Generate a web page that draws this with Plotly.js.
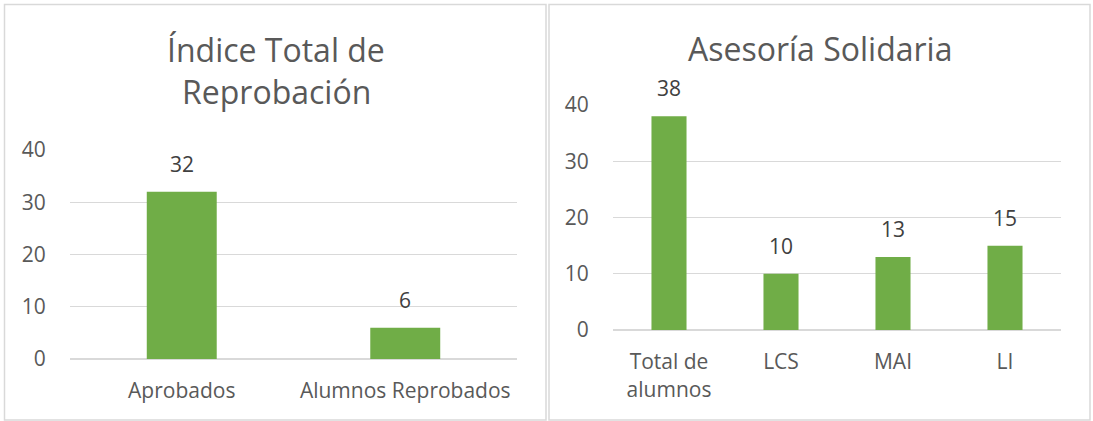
<!DOCTYPE html>
<html>
<head>
<meta charset="utf-8">
<script src="https://cdn.plot.ly/plotly-3.0.1.min.js"></script>
<style>
html,body{margin:0;padding:0;background:#fff;}
#chart{width:1093px;height:421px;}
</style>
</head>
<body>
<div id="chart"></div>
<script>
// Left chart data
const leftTitleLines = ["Índice Total de", "Reprobación"];
const leftCategories = ["Aprobados", "Alumnos Reprobados"];
const leftValues = [32, 6];
// Right chart data
const rightTitle = "Asesoría Solidaria";
const rightCategories = ["Total de<br>alumnos", "LCS", "MAI", "LI"];
const rightValues = [38, 10, 13, 15];
const yTickValues = [0, 10, 20, 30, 40];
const yTickLabels = ["0", "10", "20", "30", "40"];

const W = 1093, H = 421;
const px = v => v / W;
const py = v => (H - v) / H;

const FONT = "Open Sans, sans-serif";
const TXT = "#595959";
const BAR = "#70AD47";
const GRID = "#D9D9D9";

const traces = [
  {type: "bar", x: leftCategories, y: leftValues, xaxis: "x", yaxis: "y",
   marker: {color: BAR}, hoverinfo: "none"},
  {type: "bar", x: rightCategories, y: rightValues, xaxis: "x2", yaxis: "y2",
   marker: {color: BAR}, hoverinfo: "none"}
];

function yaxis(domain, anchor) {
  return {
    domain: domain, anchor: anchor, range: [0, 40], tickvals: yTickValues, ticktext: yTickLabels,
    showgrid: true, gridcolor: GRID, gridwidth: 1.3,
    zeroline: true, zerolinecolor: GRID, zerolinewidth: 1.3,
    showline: false, ticks: "outside", ticklen: 19, tickcolor: "rgba(0,0,0,0)",
    tickfont: {family: FONT, size: 21, color: TXT}, fixedrange: true
  };
}
function xaxis(domain, anchor) {
  return {
    domain: domain, anchor: anchor, showgrid: false, zeroline: false, showline: false,
    ticks: "outside", ticklen: 13, tickcolor: "rgba(0,0,0,0)",
    tickfont: {family: FONT, size: 21, color: TXT}, fixedrange: true, type: "category"
  };
}

const annotations = [];
leftCategories.forEach((c, i) => annotations.push({
  xref: "x", yref: "y", x: c, y: leftValues[i], text: String(leftValues[i]),
  showarrow: false, xanchor: "center", yanchor: "bottom", yshift: 12,
  font: {family: FONT, size: 21, color: "#404040"}
}));
rightCategories.forEach((c, i) => annotations.push({
  xref: "x2", yref: "y2", x: c, y: rightValues[i], text: String(rightValues[i]),
  showarrow: false, xanchor: "center", yanchor: "bottom", yshift: 12,
  font: {family: FONT, size: 21, color: "#404040"}
}));
// titles
annotations.push({xref: "paper", yref: "paper", x: px(276), y: py(50), xanchor: "center", yanchor: "middle",
  text: leftTitleLines[0], showarrow: false, font: {family: FONT, size: 32, color: TXT}});
annotations.push({xref: "paper", yref: "paper", x: px(276), y: py(92), xanchor: "center", yanchor: "middle",
  text: leftTitleLines[1], showarrow: false, font: {family: FONT, size: 32, color: TXT}});
annotations.push({xref: "paper", yref: "paper", x: px(820), y: py(48), xanchor: "center", yanchor: "middle",
  text: rightTitle, showarrow: false, font: {family: FONT, size: 32, color: TXT}});

const layout = {
  width: W, height: H,
  margin: {l: 0, r: 0, t: 0, b: 0},
  paper_bgcolor: "#fff", plot_bgcolor: "rgba(0,0,0,0)",
  showlegend: false, bargap: 0.687,
  xaxis: xaxis([px(70), px(517)], "y"),
  yaxis: yaxis([py(359), py(150)], "x"),
  xaxis2: xaxis([px(613), px(1061)], "y2"),
  yaxis2: yaxis([py(330), py(105)], "x2"),
  annotations: annotations,
  shapes: [
    {type: "rect", xref: "paper", yref: "paper", x0: px(4.5), x1: px(546), y0: py(420), y1: py(4.5),
     line: {color: GRID, width: 1.5}, fillcolor: "rgba(0,0,0,0)", layer: "below"},
    {type: "rect", xref: "paper", yref: "paper", x0: px(549), x1: px(1090), y0: py(420), y1: py(4.5),
     line: {color: GRID, width: 1.5}, fillcolor: "rgba(0,0,0,0)", layer: "below"}
  ]
};

Plotly.newPlot("chart", traces, layout, {displayModeBar: false, staticPlot: true});
</script>
</body>
</html>
